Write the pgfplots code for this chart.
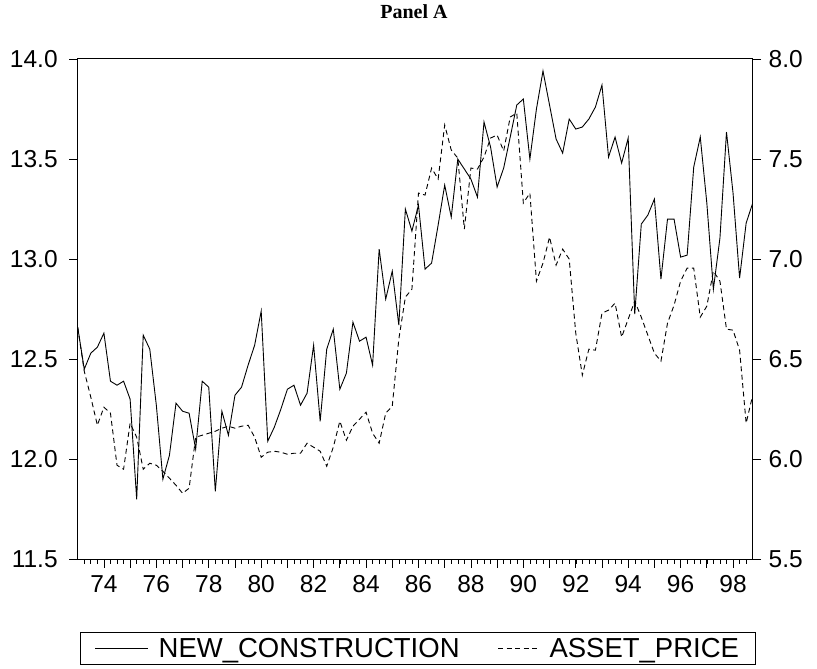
\documentclass[border=0pt]{standalone}
\usepackage{pgfplots}
\pgfplotsset{compat=1.18}
\usepackage{pgfplotstable}
\usepackage{fontspec}
\setmainfont{Liberation Sans}
\newfontfamily\seriffont{Liberation Serif}

\pgfplotstableread{
x nc ap
1973.00 12.66 6.66
1973.25 12.45 6.44
1973.50 12.53 6.31
1973.75 12.56 6.17
1974.00 12.63 6.26
1974.25 12.39 6.23
1974.50 12.37 5.97
1974.75 12.39 5.95
1975.00 12.30 6.18
1975.25 11.80 6.11
1975.50 12.62 5.95
1975.75 12.55 5.98
1976.00 12.27 5.97
1976.25 11.90 5.94
1976.50 12.02 5.905
1976.75 12.28 5.87
1977.00 12.24 5.83
1977.25 12.23 5.855
1977.50 12.05 6.11
1977.75 12.39 6.12
1978.00 12.36 6.13
1978.25 11.84 6.14
1978.50 12.24 6.155
1978.75 12.12 6.165
1979.00 12.32 6.155
1979.25 12.36 6.165
1979.50 12.47 6.17
1979.75 12.57 6.11
1980.00 12.74 6.01
1980.25 12.09 6.035
1980.50 12.16 6.04
1980.75 12.25 6.035
1981.00 12.35 6.025
1981.25 12.37 6.03
1981.50 12.27 6.03
1981.75 12.33 6.08
1982.00 12.57 6.06
1982.25 12.19 6.04
1982.50 12.55 5.965
1982.75 12.65 6.06
1983.00 12.35 6.19
1983.25 12.43 6.095
1983.50 12.685 6.165
1983.75 12.59 6.20
1984.00 12.61 6.235
1984.25 12.47 6.13
1984.50 13.05 6.08
1984.75 12.80 6.23
1985.00 12.94 6.265
1985.25 12.67 6.60
1985.50 13.25 6.81
1985.75 13.14 6.85
1986.00 13.27 7.33
1986.25 12.95 7.32
1986.50 12.98 7.455
1986.75 13.17 7.40
1987.00 13.37 7.67
1987.25 13.21 7.545
1987.50 13.50 7.505
1987.75 13.45 7.15
1988.00 13.40 7.455
1988.25 13.31 7.45
1988.50 13.685 7.51
1988.75 13.56 7.605
1989.00 13.36 7.62
1989.25 13.455 7.54
1989.50 13.61 7.71
1989.75 13.77 7.73
1990.00 13.80 7.28
1990.25 13.50 7.33
1990.50 13.75 6.89
1990.75 13.94 6.98
1991.00 13.77 7.11
1991.25 13.60 6.97
1991.50 13.53 7.05
1991.75 13.70 7.00
1992.00 13.65 6.63
1992.25 13.66 6.42
1992.50 13.70 6.55
1992.75 13.76 6.545
1993.00 13.87 6.73
1993.25 13.51 6.745
1993.50 13.61 6.78
1993.75 13.48 6.61
1994.00 13.605 6.70
1994.25 12.725 6.79
1994.50 13.175 6.71
1994.75 13.22 6.62
1995.00 13.30 6.53
1995.25 12.90 6.49
1995.50 13.20 6.68
1995.75 13.20 6.77
1996.00 13.01 6.89
1996.25 13.02 6.955
1996.50 13.46 6.955
1996.75 13.61 6.71
1997.00 13.28 6.765
1997.25 12.85 6.94
1997.50 13.105 6.89
1997.75 13.635 6.65
1998.00 13.33 6.645
1998.25 12.905 6.545
1998.50 13.18 6.18
1998.75 13.28 6.32
}\datatable

\pgfplotsset{
  common/.style={
    scale only axis, width=675bp, height=500.3bp,
    at={(0,0)}, anchor=south west,
    xmin=1973, xmax=1998.75,
    tick align=outside,
    major tick length=8.5bp, minor tick length=4.5bp,
    every tick/.style={black, line width=0.8bp},
    tick label style={font=\fontsize{24.5bp}{29bp}\selectfont},
    /pgf/number format/assume math mode=true,
    axis line style={line width=1bp, black},
    yticklabel style={/pgf/number format/fixed, /pgf/number format/fixed zerofill, /pgf/number format/precision=1},
  },
  longleg/.style={legend image code/.code={\draw[##1, line width=0.9bp] (0bp,0bp) -- (53bp,0bp);}},
  shortleg/.style={legend image code/.code={\draw[##1, line width=0.9bp] (0bp,0bp) -- (41bp,0bp);}},
}

\begin{document}
\begin{tikzpicture}
\useasboundingbox (-77.7bp,-109.7bp) rectangle (739.3bp,559.3bp);
\begin{axis}[common,
  ymin=11.5, ymax=14.0,
  ytick={11.5,12.0,12.5,13.0,13.5,14.0},
  ytick pos=left,
  yticklabel style={xshift=-8bp},
  xticklabel style={yshift=-4bp},
  xtick={1974,1975,...,1998},
  xticklabels={74,,76,,78,,80,,82,,84,,86,,88,,90,,92,,94,,96,,98},
  minor xtick={1973.25,1973.5,...,1998.75},
  xtick pos=bottom,
  legend columns=2,
  legend style={at={(0.504,-0.178)}, anchor=center, draw=black, line width=1bp,
    font=\fontsize{27.5bp}{31bp}\selectfont, inner xsep=14bp, inner ysep=4bp,
    /tikz/every odd column/.append style={column sep=8bp},
    /tikz/every even column/.append style={column sep=36bp}},
]
\addplot[black, line width=0.9bp, longleg] table[x=x, y=nc] {\datatable};
\addlegendentry{NEW\_CONSTRUCTION}
\addlegendimage{black, dash pattern=on 5bp off 3.5bp, shortleg}
\addlegendentry{ASSET\_PRICE}
\end{axis}
\begin{axis}[common,
  ymin=5.5, ymax=8.0,
  ytick={5.5,6.0,6.5,7.0,7.5,8.0},
  axis y line*=right, axis x line=none,
  ytick pos=right, yticklabel pos=right,
  yticklabel style={xshift=4bp},
]
\addplot[black, line width=0.9bp, dash pattern=on 5bp off 3.5bp] table[x=x, y=ap] {\datatable};
\end{axis}
\node[font=\seriffont\bfseries\fontsize{20bp}{24bp}\selectfont] at (336.3bp,547.3bp) {Panel A};
\end{tikzpicture}
\end{document}
